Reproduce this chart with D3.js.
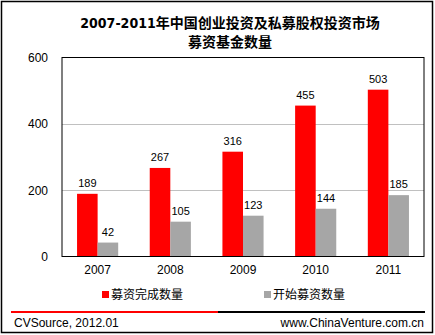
<!DOCTYPE html>
<html><head><meta charset="utf-8">
<script src="https://cdn.jsdelivr.net/npm/d3@7"></script>
<style>body{margin:0;background:#fff}svg{display:block}</style>
</head><body>
<svg id="c" width="435" height="335"></svg>
<script>
const years = ["2007", "2008", "2009", "2010", "2011"];
const completed = [189, 267, 316, 455, 503];
const started = [42, 105, 123, 144, 185];
const seriesNames = ["募资完成数量", "开始募资数量"];
const seriesColors = ["#ff0000", "#a6a6a6"];
const yTicks = [0, 200, 400, 600];
const gridTicks = [200, 400];
const titleYears = "2007-2011";
const titleRest = "年中国创业投资及私募股权投资市场";
const titleLine2 = "募资基金数量";
const sourceText = "CVSource, 2012.01";
const siteText = "www.ChinaVenture.com.cn";

const svg = d3.select("#c");
const latin = "'Liberation Sans', Arial, sans-serif";
const cjk = "'Noto Sans CJK SC', sans-serif";

// outer border
svg.append("rect").attr("x", 1.5).attr("y", 1.5).attr("width", 431).attr("height", 331)
  .attr("fill", "#fff").attr("stroke", "#000").attr("stroke-width", 1.5);

// title
const t1 = svg.append("text").attr("x", 230).attr("y", 28).attr("text-anchor", "middle")
  .attr("font-weight", "bold").attr("font-size", 14).attr("font-family", cjk);
t1.append("tspan").attr("font-family", "'Liberation Sans Narrow', 'Arial Narrow', 'DejaVu Sans Condensed', sans-serif").text(titleYears);
t1.append("tspan").text(titleRest);
svg.append("text").attr("x", 230).attr("y", 47).attr("text-anchor", "middle")
  .attr("font-weight", "bold").attr("font-size", 14).attr("font-family", cjk).text(titleLine2);

// scales
const x = d3.scaleBand().domain(years).range([62, 424]).paddingInner(0.434).paddingOuter(0.207);
const xs = d3.scaleBand().domain([0, 1]).range([0, x.bandwidth()]);
const y = d3.scaleLinear().domain([0, 600]).range([256.5, 57.5]);

// gridlines
svg.append("g").selectAll("line").data(gridTicks).join("line")
  .attr("x1", 62).attr("x2", 424).attr("y1", d => Math.round(y(d)) + 0.5).attr("y2", d => Math.round(y(d)) + 0.5)
  .attr("stroke", "#c0c0c0").attr("stroke-width", 1);

// bars
const series = [completed, started];
series.forEach((vals, si) => {
  svg.append("g").selectAll("rect").data(vals).join("rect")
    .attr("x", (d, i) => x(years[i]) + xs(si))
    .attr("width", xs.bandwidth())
    .attr("y", d => y(d))
    .attr("height", d => y(0) - y(d))
    .attr("fill", seriesColors[si]);
  svg.append("g").selectAll("text").data(vals).join("text")
    .attr("x", (d, i) => x(years[i]) + xs(si) + xs.bandwidth() / 2)
    .attr("y", d => y(d) - 7)
    .attr("text-anchor", "middle").attr("font-size", 11).attr("font-family", latin)
    .text(d => d);
});

// plot frame
svg.append("rect").attr("x", 62).attr("y", 57.5).attr("width", 362).attr("height", 199)
  .attr("fill", "none").attr("stroke", "#000").attr("stroke-width", 1);

// y axis
const ya = svg.append("g").attr("transform", "translate(62,0)")
  .call(d3.axisLeft(y).tickValues(yTicks).tickSize(0).tickPadding(14));
ya.select(".domain").remove();
ya.selectAll("text").attr("font-size", 12).attr("font-family", latin).attr("fill", "#000");

// x axis
const xa = svg.append("g").attr("transform", "translate(0,256.5)")
  .call(d3.axisBottom(x).tickSize(0).tickPadding(9));
xa.select(".domain").remove();
xa.selectAll("text").attr("font-size", 12).attr("font-family", latin).attr("fill", "#000");

// legend
const legX = [102, 264];
seriesNames.forEach((name, i) => {
  svg.append("rect").attr("x", legX[i]).attr("y", 291).attr("width", 7).attr("height", 7).attr("fill", seriesColors[i]);
  svg.append("text").attr("x", legX[i] + 9).attr("y", 298.5).attr("font-size", 12).attr("font-family", cjk).text(name);
});

// footer
svg.append("line").attr("x1", 11).attr("x2", 218).attr("y1", 312).attr("y2", 312).attr("stroke", "#ff0000").attr("stroke-width", 2);
svg.append("line").attr("x1", 218).attr("x2", 425).attr("y1", 312).attr("y2", 312).attr("stroke", "#000").attr("stroke-width", 2);
svg.append("text").attr("x", 14).attr("y", 326.5).attr("font-size", 12).attr("font-family", latin).text(sourceText);
svg.append("text").attr("x", 424).attr("y", 326.5).attr("text-anchor", "end").attr("font-size", 12).attr("font-family", latin).text(siteText);
</script>
</body></html>
